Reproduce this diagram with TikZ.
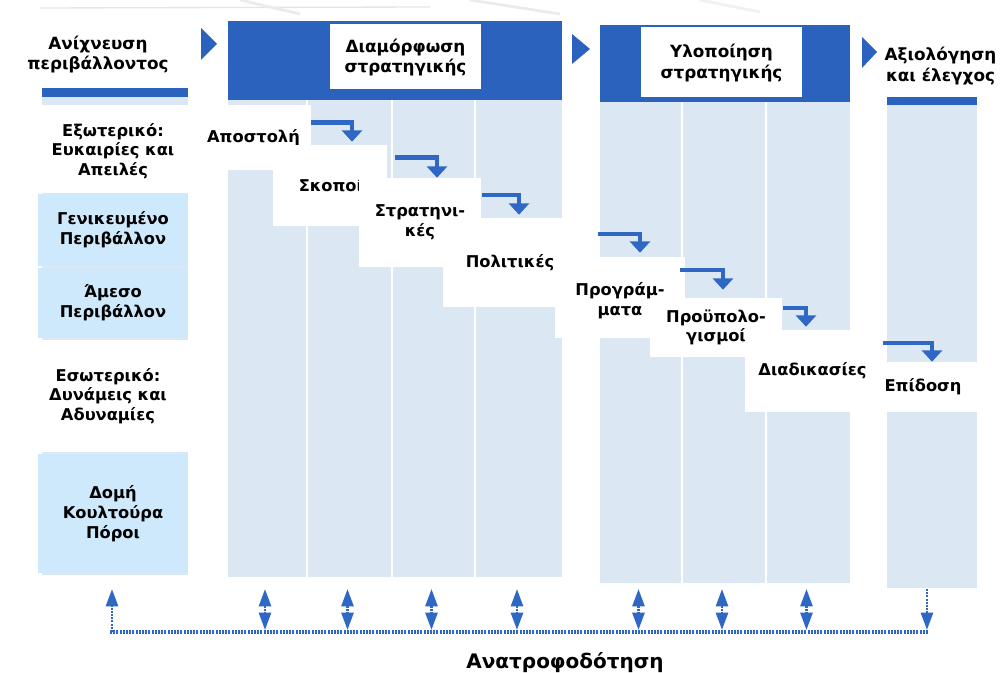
\documentclass[tikz,border=0pt]{standalone}
\usepackage{fontspec}
\setmainfont{DejaVu Sans}
\usetikzlibrary{arrows.meta,calc,fit}
\definecolor{barblue}{HTML}{2B62BE}
\definecolor{colblue}{HTML}{DCE7F4}
\definecolor{lblblue}{HTML}{CDE9FB}
\definecolor{arrblue}{HTML}{2F68C4}
\newcommand\hdrfont{\bfseries\fontsize{12.6}{15.6}\selectfont}
\newcommand\stepfont{\bfseries\fontsize{12.2}{14.8}\selectfont}
\newcommand\fbfont{\bfseries\fontsize{15}{17}\selectfont}
\begin{document}
\begin{tikzpicture}[x=0.75pt,y=-0.75pt,
  column/.style={fill=colblue,draw=none,inner sep=0pt},
  bar/.style={fill=barblue,draw=none,inner sep=0pt},
  panel/.style={fill=#1,draw=none,inner sep=0pt},
  hdrtext/.style={inner sep=0pt,align=center,font=\hdrfont},
  steptext/.style={inner sep=0pt,align=center,font=\stepfont},
  steparrow/.style={draw=arrblue,line width=3.5pt,line join=miter,
    -{Triangle[width=15pt,length=8.5pt]}},
  fbline/.style={draw=arrblue,line width=3pt,dash pattern=on 1.5pt off 0.9pt},
  fbtip/.style={draw=arrblue,line width=2pt,dash pattern=on 1.5pt off 0.9pt},
  fbhead/.tip={Triangle[width=9pt,length=13pt]}
]
\useasboundingbox (0,0) rectangle (1008,673);
\fill[white] (0,0) rectangle (1008,673);

% faint marks along the top edge
\draw[black!10,line width=1pt] (40,8) -- (430,7);
\draw[black!8,line width=2pt] (240,0) -- (300,14);
\draw[black!8,line width=2pt] (470,0) -- (560,14);
\draw[black!6,line width=2pt] (700,0) -- (760,12);

% light columns under each phase
\node[column,fit={(42,97) (188,575)}] (s0) {};
\node[column,fit={(228,100) (306,577)}] (s1) {};
\node[column,fit={(308,100) (391,577)}] (s2) {};
\node[column,fit={(393,100) (474,577)}] (s3) {};
\node[column,fit={(476,100) (562,577)}] (s4) {};
\node[column,fit={(600,102) (681,583)}] (s5) {};
\node[column,fit={(683,102) (765,583)}] (s6) {};
\node[column,fit={(767,102) (850,583)}] (s7) {};
\node[column,fit={(887,105) (977,588)}] (s8) {};

% phase bars
\node[bar,fit={(42,20) (188,97)}] (b0) {};
\node[bar,fit={(228,21) (562,100)}] (b1) {};
\node[bar,fit={(600,25) (850,102)}] (b2) {};
\node[bar,fit={(887,30) (977,105)}] (b3) {};

% arrow marks between the phases
\fill[barblue] (201,28) -- (217,44) -- (201,60) -- cycle;
\fill[barblue] (572,34) -- (590,49) -- (572,64) -- cycle;
\fill[barblue] (862,37) -- (877,52) -- (862,68) -- cycle;

% phase titles
\node[panel=white,fit={(8,17) (188,88)}] (h0) {};
\node[hdrtext] (h0t) at ($(h0.center)+(0,2)$) {Ανίχνευση\\περιβάλλοντος};
\node[panel=white,fit={(330,24) (481,89)}] (h1) {};
\node[hdrtext] (h1t) at ($(h1.center)+(0,1)$) {Διαμόρφωση\\στρατηγικής};
\node[panel=white,fit={(641,27) (802,97)}] (h2) {};
\node[hdrtext] (h2t) at ($(h2.center)+(0,1)$) {Υλοποίηση\\στρατηγικής};
\node[panel=white,fit={(877,29) (1008,97)}] (h3) {};
\node[hdrtext] (h3t) at ($(h3.center)+(-2,3)$) {Αξιολόγηση\\και έλεγχος};

% environment scanning column
\node[panel=white,fit={(38,105) (188,193)}] (ext) {};
\node[steptext] (extt) at ($(ext.center)+(0,2)$) {Εξωτερικό:\\Ευκαιρίες και\\Απειλές};
\node[panel=lblblue,fit={(38,194) (188,266)}] (gen) {};
\node[steptext] (gent) at (gen.center) {Γενικευμένο\\Περιβάλλον};
\node[panel=lblblue,fit={(38,268) (188,338)}] (ame) {};
\node[steptext] (amet) at (ame.center) {Άμεσο\\Περιβάλλον};
\node[panel=white,fit={(28,340) (188,452)}] (int) {};
\node[steptext] (intt) at (int.center) {Εσωτερικό:\\Δυνάμεις και\\Αδυναμίες};
\node[panel=lblblue,fit={(38,454) (188,573)}] (res) {};
\node[steptext] (rest) at (res.center) {Δομή\\Κουλτούρα\\Πόροι};

% staircase of steps
\node[panel=white,fit={(188,105) (311,170)}] (st1) {};
\node[steptext] (st1t) at ($(st1.center)+(4,0)$) {Αποστολή};
\node[panel=white,fit={(273,145) (387,226)}] (st2) {};
\node[steptext,anchor=west] (st2t) at (298.5,185) {Σκοποί};
\node[panel=white,fit={(359,178) (481,267)}] (st3) {};
\node[steptext] (st3t) at (st3.center) {Στρατηνι-\\κές};
\node[panel=white,fit={(443,218) (577,307)}] (st4) {};
\node[steptext] (st4t) at (st4.center) {Πολιτικές};
\node[panel=white,fit={(555,257) (685,338)}] (st5) {};
\node[steptext] (st5t) at ($(st5.center)+(0,3)$) {Προγράμ-\\ματα};
\node[panel=white,fit={(650,298) (782,357)}] (st6) {};
\node[steptext] (st6t) at (st6.center) {Προϋπολο-\\γισμοί};
\node[panel=white,fit={(745,330) (880,412)}] (st7) {};
\node[steptext] (st7t) at (st7.center) {Διαδικασίες};
\node[panel=white,fit={(868,362) (978,412)}] (st8) {};
\node[steptext] (st8t) at (st8.center) {Επίδοση};

% step connectors
\draw[steparrow] ($(st1.east)+(0,-15)$) -| ($(st2.north)+(22,-3)$);
\draw[steparrow] ($(st2.east)+(8,-28)$) -| ($(st3.north)+(17,0)$);
\draw[steparrow] ($(st3.east)+(1,-27.5)$) -| ($(st4.north)+(9,-3)$);
\draw[steparrow] ($(st4.east)+(21,-28.5)$) -| ($(st5.north)+(20,-4)$);
\draw[steparrow] ($(st5.east)+(-5,-27.5)$) -| ($(st6.north)+(7,-8)$);
\draw[steparrow] ($(st6.east)+(1,-19.5)$) -| ($(st7.north)+(-6.5,-3)$);
\draw[steparrow] ($(st7.east)+(3,-28)$) -| ($(st8.north)+(9,0)$);

% feedback loop
\coordinate (fbtop) at (0,589);
\coordinate (fbend) at (0,630);
\coordinate (fb) at (0,632);
\draw[fbline] ($(s0.south |- fb)+(-5,0)$) -- ($(s8.south |- fb)+(-3,0)$);
\draw[fbtip,-fbhead] ($(s0.south |- fb)+(-3,0)$) -- ($(s0.south |- fbtop)+(-3,0)$);
\foreach \c in {s1,s2,s3,s4,s5,s6,s7}
  \draw[fbtip,fbhead-fbhead] ($(\c.south |- fbtop)+(-2,0)$) -- ($(\c.south |- fbend)+(-2,0)$);
\draw[fbtip,-fbhead] ($(s8.south |- fbtop)+(-5,0)$) -- ($(s8.south |- fbend)+(-5,0)$);
\node[font=\fbfont] (fbl) at (565,663) {Ανατροφοδότηση};
\end{tikzpicture}
\end{document}
